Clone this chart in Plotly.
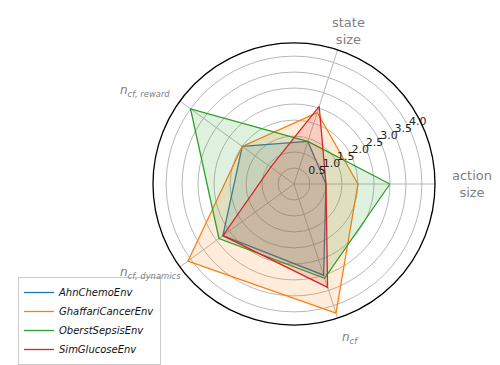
import plotly.graph_objects as go

categories = ["action size", "state size", "n_cf,reward", "n_cf,dynamics", "n_cf"]
cat_angles = [0, 72, 144, 216, 288]
series_names = ["AhnChemoEnv", "GhaffariCancerEnv", "OberstSepsisEnv", "SimGlucoseEnv"]
ahn = [1.0, 1.4, 2.0, 2.75, 3.0]
ghaffari = [2.0, 2.35, 2.0, 4.1, 4.25]
oberst = [3.0, 1.4, 4.0, 2.9, 3.1]
simglucose = [1.0, 2.55, 0.9, 2.75, 3.4]
colors = ["#1f77b4", "#ff7f0e", "#2ca02c", "#d62728"]
r_ticks = [0.5, 1.0, 1.5, 2.0, 2.5, 3.0, 3.5, 4.0]
r_max = 4.41

W, H = 500, 365
cx, cy, rad = 286, 176, 141

def rgba(hexc, a):
    h = hexc.lstrip("#")
    return "rgba(%d,%d,%d,%s)" % (int(h[0:2], 16), int(h[2:4], 16), int(h[4:6], 16), a)

fig = go.Figure()
for name, vals, col in zip(series_names, [ahn, ghaffari, oberst, simglucose], colors):
    r = vals + vals[:1]
    th = cat_angles + cat_angles[:1]
    fig.add_trace(go.Scatterpolar(r=r, theta=th, mode="lines", fill="toself",
                                  fillcolor=rgba(col, 0.15), line=dict(width=0, color=col),
                                  showlegend=False, hoverinfo="skip"))
    fig.add_trace(go.Scatterpolar(r=r, theta=th, mode="lines", name=name,
                                  line=dict(width=1.3, color=col)))

fig.add_trace(go.Scatterpolar(r=r_ticks, theta=[26] * len(r_ticks), mode="text",
                              text=["%.1f" % t for t in r_ticks], textposition="top right",
                              textfont=dict(size=11, color="#222", family="DejaVu Sans"),
                              showlegend=False, hoverinfo="skip", cliponaxis=False))

fig.update_layout(
    width=W, height=H,
    margin=dict(l=0, r=0, t=0, b=0),
    paper_bgcolor="white",
    font=dict(family="DejaVu Sans", color="#222"),
    polar=dict(
        domain=dict(x=[(cx - rad) / W, (cx + rad) / W], y=[(H - cy - rad) / H, (H - cy + rad) / H]),
        bgcolor="white",
        angularaxis=dict(rotation=0, direction="counterclockwise", tickmode="array",
                         tickvals=cat_angles, ticktext=categories, showticklabels=False,
                         ticks="", showgrid=True, gridcolor="#b8b8b8", gridwidth=1,
                         showline=True, linecolor="black", linewidth=1.3),
        radialaxis=dict(range=[0, r_max], tickmode="array", tickvals=r_ticks,
                        showticklabels=False, ticks="", showline=False,
                        showgrid=True, gridcolor="#b8b8b8", gridwidth=1, angle=22.5),
    ),
    legend=dict(x=10 / W, y=1 - 357 / H, xanchor="left", yanchor="bottom",
                bgcolor="white", bordercolor="#cccccc", borderwidth=1,
                font=dict(size=10, family="DejaVu Sans", style="italic", color="#111")),
)

label_color = "#808080"
labels = [
    ("state<br>size", 340, 23, 13),
    ("action<br>size", 464, 176, 13),
    ("<i>n</i><sub><i>cf, reward</i></sub>", 137, 83, 12),
    ("<i>n</i><sub><i>cf, dynamics</i></sub>", 142, 265, 12),
    ("<i>n</i><sub><i>cf</i></sub>", 342, 330, 12),
]
for txt, px, py, fs in labels:
    fig.add_annotation(text=txt, x=px / W, y=1 - py / H, xref="paper", yref="paper",
                       showarrow=False, xanchor="center", yanchor="middle",
                       font=dict(size=fs, color=label_color, family="DejaVu Sans"))

fig.write_html("out.html")
